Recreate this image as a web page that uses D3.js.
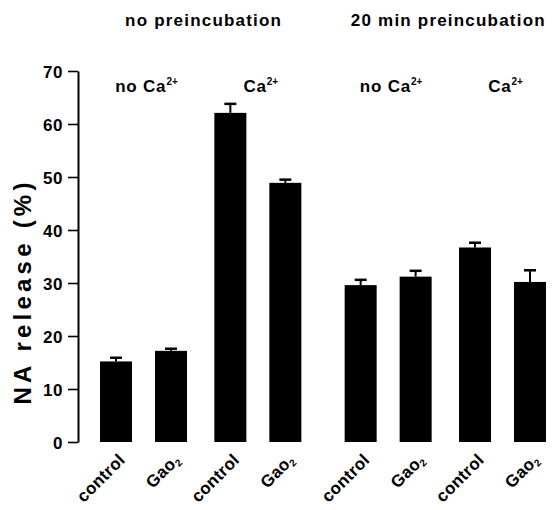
<!DOCTYPE html>
<html>
<head>
<meta charset="utf-8">
<script src="https://cdn.jsdelivr.net/npm/d3@7"></script>
<style>
  body { margin: 0; background: #fff; }
  text { font-family: "Liberation Sans", Arial, Helvetica, sans-serif; font-weight: bold; fill: #000; }
</style>
</head>
<body>
<script>
const width = 554;
const height = 510;

// data
const groups = ["no preincubation", "20 min preincubation"];
const conditions = ["no Ca", "Ca"];          // each followed by superscript 2+
const treatments = ["control", "Gao"];       // Gao followed by subscript 2
const means = [15.2, 17.2, 62.1, 48.9, 29.6, 31.2, 36.7, 30.2];
const sems  = [0.7, 0.4, 1.7, 0.6, 1.0, 1.1, 0.9, 2.2];
const yTicks = [0, 10, 20, 30, 40, 50, 60, 70];

const innerGap = 0.08, groupGap = 0.45;
function slot(i) {
  return i + Math.floor(i / 4) * groupGap + (Math.floor(i / 2) % 2) * innerGap;
}

const svg = d3.select("body")
  .append("svg")
  .attr("width", width)
  .attr("height", height);

const x = d3.scaleLinear()
  .domain([0, slot(means.length - 1)])
  .range([116, 530]);

const y = d3.scaleLinear()
  .domain([0, 70])
  .range([442, 71]);

const barW = 32;

// y axis
const yAxis = svg.append("g")
  .attr("transform", "translate(78,0)")
  .call(d3.axisLeft(y).tickValues(yTicks).tickSize(10).tickSizeOuter(0).tickPadding(5));
yAxis.select(".domain").attr("stroke", "#000").attr("stroke-width", 2);
yAxis.selectAll(".tick line").attr("stroke", "#000").attr("stroke-width", 1.6);
yAxis.selectAll(".tick text")
  .style("font-size", "17px")
  .style("letter-spacing", "0.6px")
  .attr("dy", "0.36em");

svg.append("text")
  .attr("transform", "translate(31," + y(28) + ") rotate(-90)")
  .attr("text-anchor", "middle")
  .attr("textLength", 222)
  .attr("lengthAdjust", "spacing")
  .style("font-size", "24px")
  .text("NA release (%)");

// bars
const data = means.map(function(m, i) { return { i: i, mean: m, sem: sems[i] }; });

svg.selectAll("rect.bar")
  .data(data)
  .enter().append("rect")
  .attr("class", "bar")
  .attr("x", function(d) { return x(slot(d.i)) - barW / 2; })
  .attr("y", function(d) { return y(d.mean); })
  .attr("width", barW)
  .attr("height", function(d) { return y(0) - y(d.mean); })
  .attr("fill", "#000");

// error bars (upward only)
svg.selectAll("line.err")
  .data(data)
  .enter().append("line")
  .attr("class", "err")
  .attr("x1", function(d) { return x(slot(d.i)); })
  .attr("x2", function(d) { return x(slot(d.i)); })
  .attr("y1", function(d) { return y(d.mean); })
  .attr("y2", function(d) { return y(d.mean + d.sem); })
  .attr("stroke", "#000")
  .attr("stroke-width", 2);

svg.selectAll("line.cap")
  .data(data)
  .enter().append("line")
  .attr("class", "cap")
  .attr("x1", function(d) { return x(slot(d.i)) - 6; })
  .attr("x2", function(d) { return x(slot(d.i)) + 6; })
  .attr("y1", function(d) { return y(d.mean + d.sem); })
  .attr("y2", function(d) { return y(d.mean + d.sem); })
  .attr("stroke", "#000")
  .attr("stroke-width", 2.5);

// group headers
svg.selectAll("text.group")
  .data(groups)
  .enter().append("text")
  .attr("class", "group")
  .attr("x", function(d, g) { return (x(slot(g * 4)) + x(slot(g * 4 + 3))) / 2 + 3; })
  .attr("y", 26)
  .attr("text-anchor", "middle")
  .style("font-size", "17px")
  .style("letter-spacing", "1.2px")
  .text(function(d) { return d; });

// Ca condition labels
const condData = d3.range(4).map(function(k) { return { k: k, label: conditions[k % 2] }; });
const cond = svg.selectAll("text.cond")
  .data(condData)
  .enter().append("text")
  .attr("class", "cond")
  .attr("x", function(d) { return (x(slot(d.k * 2)) + x(slot(d.k * 2 + 1))) / 2 + 3; })
  .attr("y", 92)
  .attr("text-anchor", "middle")
  .style("font-size", "17px")
  .style("letter-spacing", "0.8px");
cond.append("tspan").text(function(d) { return d.label; });
cond.append("tspan")
  .attr("dy", -7)
  .style("font-size", "10px")
  .style("letter-spacing", "0px")
  .text("2+");

// rotated treatment labels
const tl = svg.selectAll("text.treat")
  .data(data)
  .enter().append("text")
  .attr("class", "treat")
  .attr("text-anchor", "end")
  .attr("transform", function(d) { return "translate(" + (x(slot(d.i)) + 10) + ",461) rotate(-45)"; })
  .style("font-size", "17px")
  .style("letter-spacing", "0.3px");
tl.append("tspan").text(function(d) { return treatments[d.i % 2]; });
tl.filter(function(d) { return d.i % 2 === 1; })
  .append("tspan")
  .attr("dy", 3)
  .style("font-size", "10px")
  .text("2");
</script>
</body>
</html>
